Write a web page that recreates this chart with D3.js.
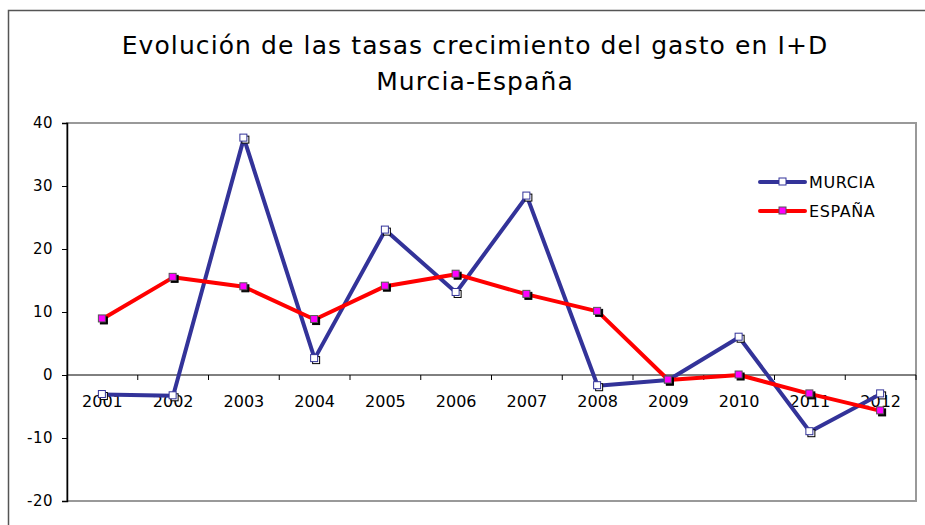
<!DOCTYPE html>
<html><head><meta charset="utf-8">
<script src="https://cdn.jsdelivr.net/npm/d3@7"></script>
<style>body{margin:0;background:#fff}svg{display:block}text{font-family:"DejaVu Sans",Verdana,sans-serif}</style>
</head><body><svg id="c" width="925" height="525"></svg>
<script>
const years = ["2001","2002","2003","2004","2005","2006","2007","2008","2009","2010","2011","2012"];
const murcia = [-3.1, -3.3, 37.6, 2.6, 23.0, 13.1, 28.4, -1.7, -0.8, 6.0, -9.0, -3.0];
const espana = [8.9, 15.5, 14.0, 8.8, 14.1, 16.0, 12.8, 10.1, -0.8, 0.0, -3.0, -5.7];
const yTicks = [40, 30, 20, 10, 0, -10, -20];
const titleLines = ["Evolución de las tasas crecimiento del gasto en I+D", "Murcia-España"];
const seriesNames = ["MURCIA", "ESPAÑA"];

const svg = d3.select("#c");
// outer chart border
svg.append("rect").attr("x",8.5).attr("y",10.5).attr("width",940).attr("height",540)
  .attr("fill","none").attr("stroke","#555").attr("stroke-width",1.5);

const L=67, R=916, T=123, B=501;
const x = d3.scaleBand().domain(years).range([L,R]);
const y = d3.scaleLinear().domain([-20,40]).range([B,T]);

// plot area border
svg.append("rect").attr("x",L).attr("y",T).attr("width",R-L).attr("height",B-T)
  .attr("fill","none").attr("stroke","#999").attr("stroke-width",2);

// title
svg.append("text").attr("x",475).attr("y",54).attr("text-anchor","middle")
  .attr("font-size",25).attr("letter-spacing",1.1).attr("fill","#000").text(titleLines[0]);
svg.append("text").attr("x",475).attr("y",90).attr("text-anchor","middle")
  .attr("font-size",25).attr("letter-spacing",1.1).attr("fill","#000").text(titleLines[1]);

// y axis
const yAxis = d3.axisLeft(y).tickValues(yTicks).tickSize(5).tickPadding(9).tickFormat(d => String(d));
const gy = svg.append("g").attr("transform",`translate(${L},0)`).call(yAxis);
gy.select(".domain").attr("stroke","#000").attr("stroke-width",1.5);
gy.selectAll(".tick line").attr("stroke","#000");
gy.selectAll(".tick text").attr("font-size",15).attr("letter-spacing",0.5).attr("fill","#000").attr("font-family","DejaVu Sans");

// x axis at y=0
const xb = d3.scaleLinear().domain([0,years.length]).range([L,R]);
const gx = svg.append("g").attr("transform",`translate(0,${y(0)})`);
gx.append("line").attr("x1",L).attr("x2",R).attr("stroke","#000").attr("stroke-width",1);
gx.selectAll("line.t").data(d3.range(0,years.length+1)).join("line").attr("class","t")
  .attr("x1",d=>xb(d)).attr("x2",d=>xb(d)).attr("y1",0).attr("y2",5).attr("stroke","#000");
gx.selectAll("text").data(years).join("text")
  .attr("x",d=>x(d)+x.bandwidth()/2).attr("y",32).attr("text-anchor","middle")
  .attr("font-size",16).attr("fill","#000").text(d=>d);

const cx = d => x(d)+x.bandwidth()/2;
function drawSeries(vals, color){
  const line = d3.line().x((d,i)=>cx(years[i])).y(d=>y(d));
  svg.append("path").datum(vals).attr("d",line).attr("fill","none")
    .attr("stroke",color).attr("stroke-width",4).attr("stroke-linejoin","round");
}
function drawMarkers(vals, mfill, mstroke){
  const g = svg.append("g");
  g.selectAll("rect.s").data(vals).join("rect").attr("class","s")
    .attr("x",(d,i)=>cx(years[i])-2).attr("y",d=>y(d)-2).attr("width",7).attr("height",7)
    .attr("fill", mfill==="#fff" ? "#fff" : "#000").attr("stroke","#000").attr("stroke-width",1);
  g.selectAll("rect.m").data(vals).join("rect").attr("class","m")
    .attr("x",(d,i)=>cx(years[i])-4).attr("y",d=>y(d)-4).attr("width",7).attr("height",7)
    .attr("fill",mfill).attr("stroke",mstroke).attr("stroke-width",1);
}
drawSeries(murcia, "#333399");
drawSeries(espana, "#ff0000");
drawMarkers(murcia, "#fff", "#333399");
drawMarkers(espana, "#ff00ff", "#555");

// legend
const legY = [182, 211];
const legColors = ["#333399","#ff0000"];
const legFill = ["#fff","#ff00ff"];
const legStroke = ["#333399","#555"];
seriesNames.forEach((n,i)=>{
  svg.append("line").attr("x1",760).attr("x2",805).attr("y1",legY[i]).attr("y2",legY[i])
    .attr("stroke",legColors[i]).attr("stroke-width",4).attr("stroke-linecap","round");
  svg.append("rect").attr("x",779).attr("y",legY[i]-4).attr("width",7).attr("height",7)
    .attr("fill",legFill[i]).attr("stroke",legStroke[i]);
  svg.append("text").attr("x",809).attr("y",legY[i]+6).attr("font-size",16).attr("letter-spacing",0.6).attr("fill","#000").text(n);
});
</script></body></html>
